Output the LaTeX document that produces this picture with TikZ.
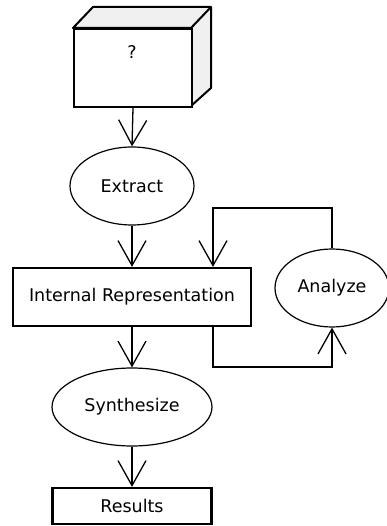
\documentclass[tikz,border=0pt]{standalone}
\usepackage{fontspec}
\setmainfont{DejaVu Sans}
\usetikzlibrary{arrows.meta,shapes.geometric}
\begin{document}
\begin{tikzpicture}[x=1pt,y=-1pt,
  every node/.style={font=\fontsize{17.5}{20}\selectfont},
  proc/.style={draw, line width=1.2pt, ellipse, minimum width=#1, minimum height=78pt, inner sep=0pt},
  store/.style={draw, line width=2.2pt, rectangle, inner sep=0pt},
  flow/.style={line width=1.3pt, -{Straight Barb[length=25pt, width=28pt, line width=1.3pt]}}]
  \useasboundingbox (0,0) rectangle (386,526);
  % 3-D box: side faces, then front face
  \filldraw[fill=gray!12, line width=2pt, line join=round]
    (73,28) -- (93,7) -- (211,7) -- (211,88) -- (191,106) -- (191,28) -- cycle;
  \draw[line width=2pt] (191,28) -- (211,7);
  \node[draw, fill=white, line width=2pt, minimum width=118pt, minimum height=78pt, anchor=north west,
        inner sep=0pt] (src) at (73,28) {};
  \node (q) at (132,52) {?};
  % process ellipses
  \node[proc=124pt] (extract) at (132,186) {Extract};
  \node[proc=114pt] (analyze) at (332,288) {Analyze};
  \node[proc=160pt] (synth) at (132,407) {Synthesize};
  % rectangles
  \node[store, minimum width=238pt, minimum height=58pt] (ir) at (132,297) {Internal Representation};
  \node[store, minimum width=159pt, minimum height=36pt] (res) at (132,506) {Results};
  % main flow
  \draw[flow] (src.south) -- (extract.north);
  \draw[flow] (extract.south) -- (ir.north);
  \draw[flow] (ir.south) -- (synth.north);
  \draw[flow] (synth.south) -- (res.north);
  % analysis loop
  \coordinate (tl) at (213,208);
  \coordinate (bl) at (213,367);
  \draw[flow] (analyze.north) |- (tl) -- (ir.north -| tl);
  \draw[flow] (ir.south -| bl) -- (bl) -| (analyze.south);
\end{tikzpicture}
\end{document}
